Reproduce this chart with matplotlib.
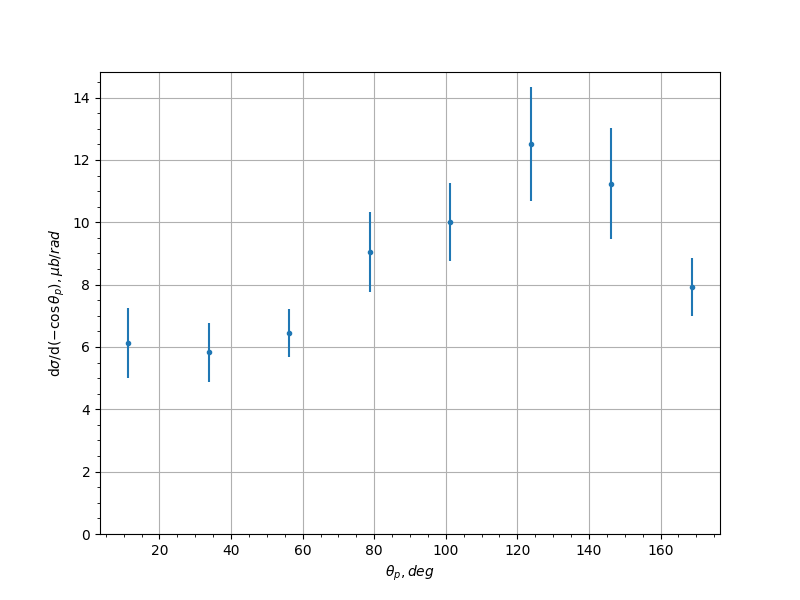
import matplotlib
matplotlib.use("Agg")
import matplotlib.pyplot as plt

# bin centres of the proton angle (deg)
theta = [11.25, 33.75, 56.25, 78.75, 101.25, 123.75, 146.25, 168.75]
xsec = [6.12, 5.83, 6.45, 9.05, 10.02, 12.52, 11.24, 7.93]
xsec_err = [1.13, 0.95, 0.77, 1.28, 1.25, 1.83, 1.78, 0.93]

fig, ax = plt.subplots(figsize=(8, 6), dpi=100)
ax.errorbar(theta, xsec, yerr=xsec_err, fmt=".")
ax.set_ylim(bottom=0)
ax.minorticks_on()
ax.grid(True)
ax.set_xlabel(r"$\theta_p, deg$")
ax.set_ylabel(r"d$\sigma$/d$(-\cos\theta_p), \mu b/rad$")

fig.savefig("out.png")
